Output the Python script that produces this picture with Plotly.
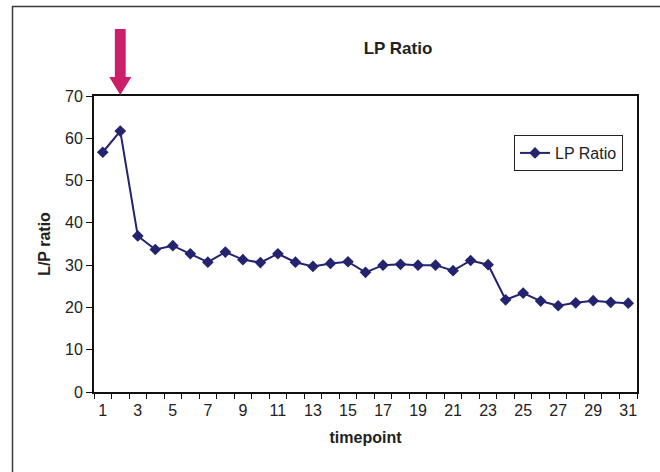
import plotly.graph_objects as go

timepoints = list(range(1, 32))
lp_ratio = [56.7, 61.7, 36.9, 33.7, 34.6, 32.7, 30.7, 33.1, 31.3, 30.6,
            32.7, 30.7, 29.7, 30.4, 30.8, 28.3, 30.0, 30.2, 30.0, 30.0,
            28.7, 31.1, 30.1, 21.8, 23.4, 21.5, 20.4, 21.1, 21.6, 21.2, 21.0]
x_tick_labels = [str(v) for v in range(1, 32, 2)]
y_ticks = list(range(0, 71, 10))

W, H = 660, 472
L, R, T, B = 94, 23, 96, 80
pw, ph = W - L - R, H - T - B

def px_x(px):
    return (px - L) / pw

def px_y(py):
    return (H - B - py) / ph

FONT = "Liberation Sans, Arial, sans-serif"
navy = "#232370"
txt = "#222"

fig = go.Figure()
fig.add_trace(go.Scatter(
    x=timepoints, y=lp_ratio, mode="lines+markers", name="LP Ratio",
    line=dict(color=navy, width=2),
    marker=dict(symbol="diamond", size=9, color=navy),
))

# arrow pointing at timepoint 2 (shape in x-data / paper-y coords)
ax = 2
sw, hw = 0.31, 0.63
y_top, y_neck, y_tip = px_y(29), px_y(77), px_y(95)
path = (f"M {ax - sw},{y_top} L {ax + sw},{y_top} L {ax + sw},{y_neck} "
        f"L {ax + hw},{y_neck} L {ax},{y_tip} L {ax - hw},{y_neck} "
        f"L {ax - sw},{y_neck} Z")
fig.add_shape(type="path", path=path, xref="x", yref="paper",
              fillcolor="#CD1E69", line=dict(width=0), layer="above")

# outer chart frame
fig.add_shape(type="rect", xref="paper", yref="paper",
              x0=px_x(12.5), x1=px_x(700), y0=px_y(520), y1=px_y(6.5),
              line=dict(color="#3a3a3a", width=1.5), layer="below")

fig.update_layout(
    width=W, height=H,
    margin=dict(l=L, r=R, t=T, b=B),
    paper_bgcolor="white", plot_bgcolor="white",
    font=dict(family=FONT, size=16, color=txt),
    title=dict(text="<b>LP Ratio</b>", x=px_x(398), xref="paper",
               xanchor="center", y=1 - 48 / H, yanchor="middle",
               font=dict(size=17, family=FONT, color=txt)),
    showlegend=True,
    legend=dict(x=px_x(514), y=px_y(135), xanchor="left", yanchor="top",
                bordercolor=txt, borderwidth=1, bgcolor="white",
                font=dict(size=16, family=FONT, color=txt),
                tracegroupgap=0, itemwidth=30),
    xaxis=dict(
        range=[0.5, 31.5], tickmode="array",
        tickvals=list(range(1, 32, 2)), ticktext=x_tick_labels,
        ticks="", showgrid=False, zeroline=False, ticklabelstandoff=3,
        showline=True, linecolor="#111", linewidth=2, mirror=True,
        minor=dict(tickmode="array", tickvals=[i + 0.5 for i in range(0, 32)],
                   ticks="outside", ticklen=5, tickcolor="#111", tickwidth=1,
                   showgrid=False),
        tickfont=dict(size=16, family=FONT, color=txt),
        title=dict(text="<b>timepoint</b>", standoff=14,
                   font=dict(size=16, family=FONT, color=txt)),
    ),
    yaxis=dict(
        range=[0, 70], tickmode="array", tickvals=y_ticks,
        ticks="outside", ticklen=6, tickcolor="#111", tickwidth=1,
        showgrid=False, zeroline=False,
        showline=True, linecolor="#111", linewidth=2, mirror=True,
        tickfont=dict(size=16, family=FONT, color=txt),
        title=dict(text="<b>L/P ratio</b>", standoff=10,
                   font=dict(size=16, family=FONT, color=txt)),
    ),
)

fig.write_html("out.html")
